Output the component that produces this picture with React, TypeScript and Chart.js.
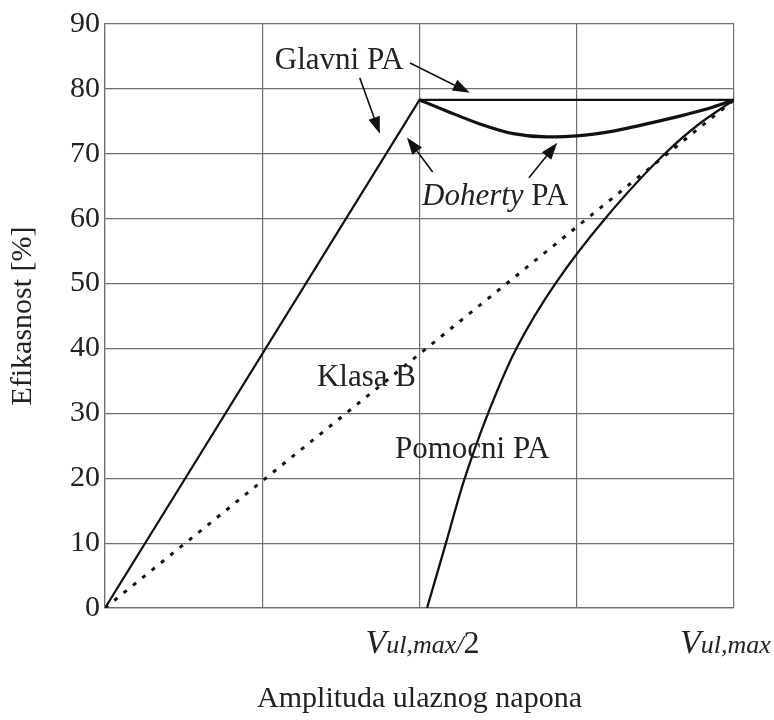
import { useEffect, useRef } from "react";
import { Chart, registerables } from "chart.js";

Chart.register(...registerables);

// ---------- data (x = input amplitude as fraction of Vul,max, y = efficiency %) ----------
const glavniX = [0, 0.5, 1];
const glavniY = [0, 78.3, 78.3];

const dohertyX = [0.5, 0.543, 0.596, 0.649, 0.702, 0.755, 0.808, 0.861, 0.914, 0.967, 1];
const dohertyY = [78.3, 76.6, 74.6, 73.1, 72.6, 72.8, 73.5, 74.6, 75.8, 77.2, 78.3];

const klasaBX = [0, 1];
const klasaBY = [0, 78.3];

const pomocniX = [0.512, 0.542, 0.572, 0.609, 0.654, 0.716, 0.795, 0.89, 0.946, 1];
const pomocniY = [0, 10, 20, 30, 40, 50, 60, 70, 74.7, 78.3];

const yTicks = [0, 10, 20, 30, 40, 50, 60, 70, 80, 90];
const xGridStep = 0.25;

const xTickValues = [0.5, 1];
const xTickParts = [
  ["V", "ul,max/", "2"],
  ["V", "ul,max", ""],
];

const yTitle = "Efikasnost [%]";
const xTitle = "Amplituda ulaznog napona";

const labelGlavni = "Glavni PA";
const labelDohertyItalic = "Doherty";
const labelDohertyRest = " PA";
const labelKlasaB = "Klasa B";
const labelPomocni = "Pomocni PA";

const SERIF = "'Liberation Serif', 'Times New Roman', serif";

const toPts = (xs: number[], ys: number[]) => xs.map((v, i) => ({ x: v, y: ys[i] }));

function drawArrow(ctx: CanvasRenderingContext2D, x0: number, y0: number, x1: number, y1: number) {
  const ang = Math.atan2(y1 - y0, x1 - x0);
  const headLen = 17;
  const headHalf = 6;
  const bx = x1 - headLen * Math.cos(ang);
  const by = y1 - headLen * Math.sin(ang);
  ctx.beginPath();
  ctx.moveTo(x0, y0);
  ctx.lineTo(bx, by);
  ctx.lineWidth = 1.6;
  ctx.strokeStyle = "#111";
  ctx.stroke();
  ctx.beginPath();
  ctx.moveTo(x1, y1);
  ctx.lineTo(bx + headHalf * Math.sin(ang), by - headHalf * Math.cos(ang));
  ctx.lineTo(bx - headHalf * Math.sin(ang), by + headHalf * Math.cos(ang));
  ctx.closePath();
  ctx.fillStyle = "#111";
  ctx.fill();
}

const annotationPlugin = {
  id: "dohertyAnnotations",
  afterDraw(chart: any) {
    const { ctx } = chart;
    const xs = chart.scales.x;
    const ys = chart.scales.y;
    const px = (v: number) => xs.getPixelForValue(v);
    const py = (v: number) => ys.getPixelForValue(v);
    ctx.save();
    ctx.fillStyle = "#222";
    ctx.textBaseline = "alphabetic";
    ctx.textAlign = "left";

    // text labels
    ctx.font = `31px ${SERIF}`;
    ctx.fillText(labelGlavni, px(0.27), py(83.0));
    ctx.fillText(labelKlasaB, px(0.337), py(34.25));
    ctx.fillText(labelPomocni, px(0.461), py(23.07));
    ctx.font = `italic 31px ${SERIF}`;
    const dx = px(0.504);
    ctx.fillText(labelDohertyItalic, dx, py(62.1));
    const w = ctx.measureText(labelDohertyItalic).width;
    ctx.font = `31px ${SERIF}`;
    ctx.fillText(labelDohertyRest, dx + w, py(62.1));

    // arrows
    drawArrow(ctx, px(0.405), py(81.7), px(0.437), py(73.1));
    drawArrow(ctx, px(0.485), py(84.0), px(0.58), py(79.4));
    drawArrow(ctx, px(0.521), py(67.2), px(0.48), py(72.5));
    drawArrow(ctx, px(0.674), py(66.3), px(0.719), py(71.7));

    // x tick labels with mixed styles
    ctx.fillStyle = "#222";
    const baseY = ys.bottom + 45;
    xTickValues.forEach((v, i) => {
      const [a, b, c] = xTickParts[i];
      let cx = px(v) - 54;
      ctx.font = `italic 34px ${SERIF}`;
      ctx.fillText(a, cx, baseY);
      cx += ctx.measureText(a).width;
      ctx.font = `italic 26px ${SERIF}`;
      ctx.fillText(b, cx, baseY);
      cx += ctx.measureText(b).width;
      if (c) {
        ctx.font = `32px ${SERIF}`;
        ctx.fillText(c, cx, baseY);
      }
    });
    ctx.restore();
  },
};

export default function App() {
  const canvasRef = useRef<HTMLCanvasElement | null>(null);

  useEffect(() => {
    document.body.style.margin = "0";
    const canvas = canvasRef.current;
    if (!canvas) return;
    const gridColor = "#6f6f6f";
    const chart = new Chart(canvas, {
      type: "line",
      data: {
        datasets: [
          {
            label: "Glavni PA",
            data: toPts(glavniX, glavniY),
            borderColor: "#111",
            borderWidth: 2.2,
            pointRadius: 0,
            tension: 0,
          },
          {
            label: "Doherty PA",
            data: toPts(dohertyX, dohertyY),
            borderColor: "#111",
            borderWidth: 3.2,
            pointRadius: 0,
            cubicInterpolationMode: "monotone",
          },
          {
            label: "Klasa B",
            data: toPts(klasaBX, klasaBY),
            borderColor: "#111",
            borderWidth: 3,
            borderDash: [4, 8],
            pointRadius: 0,
            tension: 0,
          },
          {
            label: "Pomocni PA",
            data: toPts(pomocniX, pomocniY),
            indexAxis: "y",
            borderColor: "#111",
            borderWidth: 2.3,
            pointRadius: 0,
            cubicInterpolationMode: "monotone",
          } as any,
        ],
      },
      options: {
        responsive: true,
        maintainAspectRatio: false,
        animation: false,
        layout: { padding: { top: 24, right: 40, left: 0, bottom: 0 } },
        plugins: {
          legend: { display: false },
          tooltip: { enabled: false },
        },
        scales: {
          x: {
            type: "linear",
            min: 0,
            max: 1,
            ticks: { stepSize: xGridStep, display: false },
            grid: { color: gridColor, lineWidth: 1.2, drawTicks: false },
            border: { color: gridColor, width: 1.2 },
            title: {
              display: true,
              text: xTitle,
              color: "#222",
              font: { family: SERIF, size: 30 },
              padding: { top: 0, bottom: 3 },
            },
            afterFit: (s: any) => {
              s.height = 112;
            },
          },
          y: {
            type: "linear",
            min: 0,
            max: 90,
            afterBuildTicks: (s: any) => {
              s.ticks = yTicks.map((v) => ({ value: v }));
            },
            ticks: {
              color: "#222",
              padding: 5,
              font: { family: SERIF, size: 30 },
            },
            grid: { color: gridColor, lineWidth: 1.2, drawTicks: false },
            border: { color: gridColor, width: 1.2 },
            title: {
              display: true,
              text: yTitle,
              color: "#222",
              font: { family: SERIF, size: 30 },
              padding: { top: 5, bottom: 0 },
            },
            afterFit: (s: any) => {
              s.width = 105;
            },
          },
        },
      },
      plugins: [annotationPlugin],
    });
    return () => chart.destroy();
  }, []);

  return (
    <div style={{ width: 774, height: 720, position: "relative" }}>
      <canvas ref={canvasRef} />
    </div>
  );
}
